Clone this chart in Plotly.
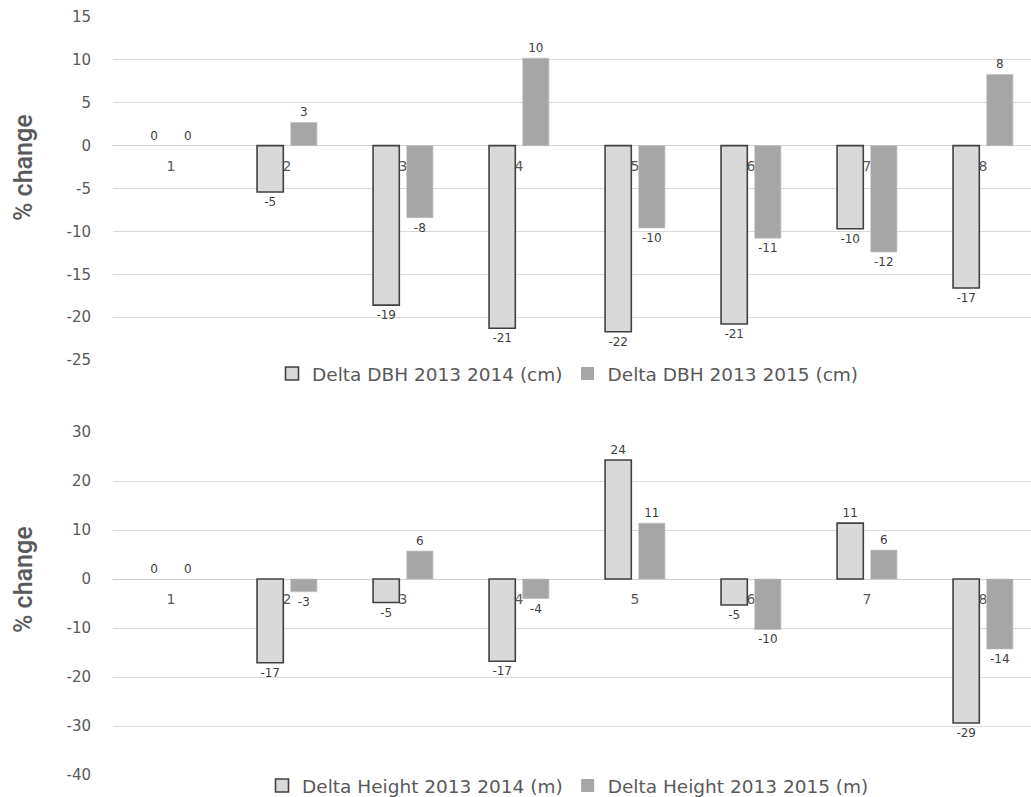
import plotly.graph_objects as go

W, H = 1031, 797

categories = ["1", "2", "3", "4", "5", "6", "7", "8"]

dbh_2014 = [0, -5.4, -18.6, -21.3, -21.7, -20.8, -9.7, -16.6]
dbh_2015 = [0, 2.7, -8.4, 10.2, -9.6, -10.8, -12.4, 8.3]
height_2014 = [0, -17.1, -4.8, -16.8, 24.3, -5.3, 11.4, -29.4]
height_2015 = [0, -2.6, 5.7, -4.0, 11.4, -10.3, 5.9, -14.3]

name_dbh_2014 = "Delta DBH 2013 2014 (cm)"
name_dbh_2015 = "Delta DBH 2013 2015 (cm)"
name_h_2014 = "Delta Height 2013 2014 (m)"
name_h_2015 = "Delta Height 2013 2015 (m)"

top_ticks = [-25, -20, -15, -10, -5, 0, 5, 10, 15]
bottom_ticks = [-40, -30, -20, -10, 0, 10, 20, 30]

LIGHT = "#d9d9d9"
DARK = "#a6a6a6"
TXT = "#595959"
LBL = "#404040"
GRID = "#d9d9d9"
FONT = "DejaVu Sans, Verdana, sans-serif"


def lab(vals):
    return [str(int(round(v))) for v in vals]


def px_x(p):
    return p / W


def px_y(p):
    return 1 - p / H


# plot area: left edge at 113px, 116px per category, cut by the image edge
PLOT_LEFT = 113
CAT_PX = 116
x_dom = [px_x(PLOT_LEFT), 1.0]
x_range = [-0.5, -0.5 + (W - PLOT_LEFT) / CAT_PX]
top_dom = [px_y(360), px_y(17)]
bot_dom = [px_y(775), px_y(432)]
top_range = [-25, 15]
bot_range = [-40, 30]


def zero_pos(dom, rng):
    return dom[0] + (0 - rng[0]) / (rng[1] - rng[0]) * (dom[1] - dom[0])


fig = go.Figure()


def add_bars(vals, name, fill, line_color, line_width, xa, ya, legend):
    # data bars (no outline on zero-height bars)
    fig.add_trace(go.Bar(
        x=categories, y=vals, name=name, xaxis=xa, yaxis=ya, legend=legend,
        showlegend=False, legendgroup=name,
        marker=dict(color=fill, line=dict(
            color=line_color,
            width=[0 if v == 0 else line_width for v in vals])),
        text=lab(vals), textposition="outside", constraintext="none",
        cliponaxis=False,
        textfont=dict(family=FONT, size=12, color=LBL),
        hoverinfo="skip",
    ))


def add_legend_entry(name, fill, line_color, line_width, xa, ya, legend):
    fig.add_trace(go.Scatter(
        x=[None], y=[None], name=name, xaxis=xa, yaxis=ya, legend=legend,
        mode="markers", showlegend=True, legendgroup=name,
        marker=dict(symbol="square", size=13, color=fill,
                    line=dict(color=line_color, width=line_width)),
        hoverinfo="skip",
    ))


add_bars(dbh_2014, name_dbh_2014, LIGHT, "#404040", 1.6, "x", "y", "legend")
add_bars(dbh_2015, name_dbh_2015, DARK, "#bfbfbf", 0.6, "x", "y", "legend")
add_bars(height_2014, name_h_2014, LIGHT, "#404040", 1.6, "x2", "y2", "legend2")
add_bars(height_2015, name_h_2015, DARK, "#bfbfbf", 0.6, "x2", "y2", "legend2")

add_legend_entry(name_dbh_2014, LIGHT, "#404040", 1.6, "x", "y", "legend")
add_legend_entry(name_dbh_2015, DARK, DARK, 0, "x", "y", "legend")
add_legend_entry(name_h_2014, LIGHT, "#404040", 1.6, "x2", "y2", "legend2")
add_legend_entry(name_h_2015, DARK, DARK, 0, "x2", "y2", "legend2")

xcommon = dict(
    type="category", domain=x_dom, range=x_range, showgrid=False,
    showline=False, zeroline=False, ticks="", layer="below traces",
    tickfont=dict(family=FONT, size=14, color=TXT),
    ticklabelstandoff=10, anchor="free", fixedrange=True, automargin=False,
)
ycommon = dict(
    showgrid=True, gridcolor=GRID, gridwidth=1, zeroline=True,
    zerolinecolor="#cfcfcf", zerolinewidth=1, showline=False, ticks="",
    tickfont=dict(family=FONT, size=15, color=TXT),
    ticklabelstandoff=21, automargin=False, fixedrange=True,
)

legend_common = dict(
    orientation="h", xanchor="center", yanchor="middle",
    font=dict(family=FONT, size=18.5, color=TXT), bgcolor="rgba(0,0,0,0)",
    itemclick=False, itemdoubleclick=False,
)

TITLE_FONT = dict(family="Roboto, Liberation Sans, Arial, sans-serif", size=25,
                  color=TXT, weight=500)

fig.update_layout(
    width=W, height=H,
    margin=dict(l=0, r=0, t=0, b=0, pad=0, autoexpand=False),
    paper_bgcolor="white", plot_bgcolor="white",
    barmode="group", bargap=0.42, bargroupgap=0.22,
    showlegend=True, hovermode=False,
    xaxis=dict(**xcommon, position=zero_pos(top_dom, top_range)),
    xaxis2=dict(**xcommon, position=zero_pos(bot_dom, bot_range)),
    yaxis=dict(**ycommon, domain=top_dom, range=top_range, anchor="x",
               tickvals=top_ticks, ticktext=[str(t) for t in top_ticks]),
    yaxis2=dict(**ycommon, domain=bot_dom, range=bot_range, anchor="x2",
                tickvals=bottom_ticks, ticktext=[str(t) for t in bottom_ticks]),
    legend=dict(**legend_common, x=px_x(568), y=px_y(374)),
    legend2=dict(**legend_common, x=px_x(568), y=px_y(786)),
    annotations=[
        dict(text="% change", x=px_x(23), y=px_y(168), xref="paper", yref="paper",
             xanchor="center", yanchor="middle", textangle=-90, showarrow=False,
             font=TITLE_FONT),
        dict(text="% change", x=px_x(23), y=px_y(580), xref="paper", yref="paper",
             xanchor="center", yanchor="middle", textangle=-90, showarrow=False,
             font=TITLE_FONT),
    ],
)

fig.write_html(
    "out.html",
    config={"displayModeBar": False, "staticPlot": True},
    post_script="document.body.style.margin='0';"
                "document.body.style.overflow='hidden';",
)
